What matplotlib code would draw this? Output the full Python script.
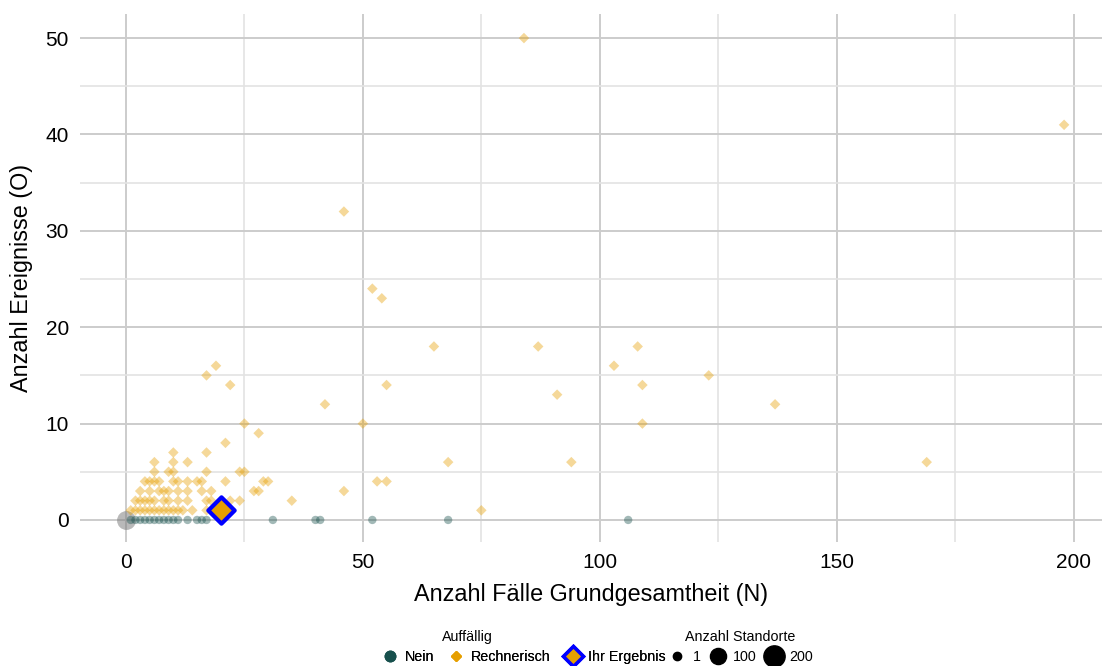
import matplotlib.pyplot as plt
from matplotlib.lines import Line2D
import numpy as np

plt.rcParams['font.family'] = ['Liberation Sans', 'DejaVu Sans']

# Rechnerisch auffaellige Standorte (N, O)
ra_n = [84, 198, 46, 52, 54, 65, 87, 108, 19, 103, 17, 123, 22, 55, 109, 91, 42, 137,
        50, 25, 109, 28, 21, 10, 17, 6, 10, 13, 68, 94, 169,
        6, 9, 10, 17, 24, 25,
        4, 5, 6, 7, 10, 11, 13, 15, 16, 21, 29, 30, 53, 55,
        3, 5, 7, 8, 9, 11, 13, 16, 18, 27, 28, 46,
        2, 3, 4, 5, 6, 8, 9, 11, 13, 17, 18, 22, 24, 35,
        1, 2, 3, 4, 5, 6, 7, 8, 9, 10, 11, 12, 14, 17, 19, 21, 75]
ra_o = [50, 41, 32, 24, 23, 18, 18, 18, 16, 16, 15, 15, 14, 14, 14, 13, 12, 12,
        10, 10, 10, 9, 8, 7, 7, 6, 6, 6, 6, 6, 6,
        5, 5, 5, 5, 5, 5,
        4, 4, 4, 4, 4, 4, 4, 4, 4, 4, 4, 4, 4, 4,
        3, 3, 3, 3, 3, 3, 3, 3, 3, 3, 3, 3,
        2, 2, 2, 2, 2, 2, 2, 2, 2, 2, 2, 2, 2, 2,
        1, 1, 1, 1, 1, 1, 1, 1, 1, 1, 1, 1, 1, 1, 1, 1, 1]

# Nicht auffaellige Standorte (alle O = 0)
nein_n = [1, 2, 3, 4, 5, 6, 7, 8, 9, 10, 11, 13, 15, 16, 17, 31, 40, 41, 52, 68, 106]
nein_o = [0] * len(nein_n)

# Standorte mit N = 0
null_n = [0]
null_o = [0]
null_anzahl = [150]

# Ihr Ergebnis
ihr_n = [20]
ihr_o = [1]

teal = '#17504d'
orange = '#E69F00'

def size(n):
    return 36 + (np.asarray(n) - 1) * 1.0

fig = plt.figure(figsize=(11.02, 6.66), dpi=100)
ax = fig.add_axes([0.0726, 0.186, 0.9274, 0.793])

ax.scatter(null_n, null_o, s=size(null_anzahl), color='#808080', alpha=0.55, linewidths=0, zorder=3)
ax.scatter(nein_n, nein_o, s=size([1] * len(nein_n)), color=teal, alpha=0.4, linewidths=0, zorder=3)
ax.scatter(ra_n, ra_o, s=size([1] * len(ra_n)) * 0.8, marker='D', color=orange, alpha=0.4,
           linewidths=0, zorder=3)
ax.scatter(ihr_n, ihr_o, s=180, marker='D', color=orange, edgecolors='#0000ff', linewidths=3, zorder=4)

ax.set_xlim(-9.7, 206)
ax.set_ylim(-2.3, 52.5)
ax.set_xticks([0, 50, 100, 150, 200])
ax.set_xticks([25, 75, 125, 175], minor=True)
ax.set_yticks([0, 10, 20, 30, 40, 50])
ax.set_yticks([5, 15, 25, 35, 45], minor=True)
ax.grid(which='major', color='#cccccc', linewidth=1.4)
ax.grid(which='minor', color='#e3e3e3', linewidth=1.2)
ax.set_axisbelow(True)
for sp in ax.spines.values():
    sp.set_visible(False)
ax.tick_params(which='both', length=0, labelsize=15, pad=8, labelcolor='black')

ax.set_xlabel('Anzahl Fälle Grundgesamtheit (N)', fontsize=16.8, labelpad=8)
ax.set_ylabel('Anzahl Ereignisse (O)', fontsize=16.8, labelpad=9)

# legends at the bottom
h1 = [Line2D([], [], marker='o', color=teal, linestyle='', markersize=7.5),
      Line2D([], [], marker='D', color=orange, linestyle='', markersize=5.5),
      Line2D([], [], marker='D', color=orange, markeredgecolor='#0000ff', markeredgewidth=2.5,
             linestyle='', markersize=10)]
leg1 = fig.legend(h1, ['Nein', 'Rechnerisch', 'Ihr Ergebnis'], ncol=3,
                  loc='center', bbox_to_anchor=(0.475, 0.013), frameon=False, fontsize=10.3,
                  handletextpad=0.45, columnspacing=0.9, handlelength=1.2)

h2 = [Line2D([], [], marker='o', color='black', linestyle='', markersize=np.sqrt(size(v)))
      for v in [1, 100, 200]]
leg2 = fig.legend(h2, ['1', '100', '200'], ncol=3,
                  loc='center', bbox_to_anchor=(0.672, 0.013), frameon=False, fontsize=10.3,
                  handletextpad=0.45, columnspacing=0.5, handlelength=1.3)
fig.add_artist(leg1)

fig.text(467 / 1102, 1 - 637 / 666, 'Auffällig', ha='center', va='center', fontsize=10.3)
fig.text(740 / 1102, 1 - 637 / 666, 'Anzahl Standorte', ha='center', va='center', fontsize=10.3)

fig.savefig('out.png', dpi=100)
